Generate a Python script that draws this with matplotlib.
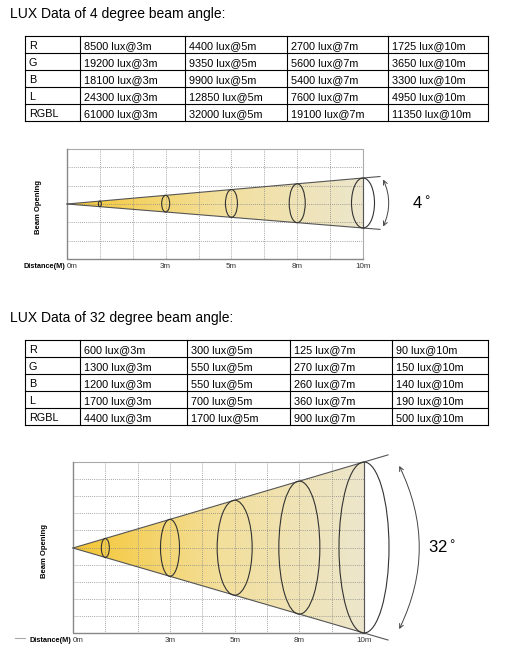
import numpy as np
import matplotlib
matplotlib.use("Agg")
import matplotlib.pyplot as plt
from matplotlib.patches import Polygon, Ellipse, FancyArrowPatch
from matplotlib.colors import LinearSegmentedColormap

plt.rcParams['font.family'] = ['Liberation Sans', 'DejaVu Sans']

# ---- data ----
row_labels = ["R", "G", "B", "L", "RGBL"]
lux_4deg = [
    ["8500 lux@3m", "4400 lux@5m", "2700 lux@7m", "1725 lux@10m"],
    ["19200 lux@3m", "9350 lux@5m", "5600 lux@7m", "3650 lux@10m"],
    ["18100 lux@3m", "9900 lux@5m", "5400 lux@7m", "3300 lux@10m"],
    ["24300 lux@3m", "12850 lux@5m", "7600 lux@7m", "4950 lux@10m"],
    ["61000 lux@3m", "32000 lux@5m", "19100 lux@7m", "11350 lux@10m"],
]
lux_32deg = [
    ["600 lux@3m", "300 lux@5m", "125 lux@7m", "90 lux@10m"],
    ["1300 lux@3m", "550 lux@5m", "270 lux@7m", "150 lux@10m"],
    ["1200 lux@3m", "550 lux@5m", "260 lux@7m", "140 lux@10m"],
    ["1700 lux@3m", "700 lux@5m", "360 lux@7m", "190 lux@10m"],
    ["4400 lux@3m", "1700 lux@5m", "900 lux@7m", "500 lux@10m"],
]
dist_labels = ["0m", "3m", "5m", "8m", "10m"]
ring_cols = [1, 3, 5, 7, 9]          # grid column of each ring

fig = plt.figure(figsize=(5.09, 6.51), dpi=100)
ax = fig.add_axes([0, 0, 1, 1])
ax.set_xlim(0, 509)
ax.set_ylim(651, 0)
ax.axis('off')

cmap = LinearSegmentedColormap.from_list("beam", ["#f5c632", "#f3df9a", "#ece6cc"])


def draw_table(y0, cols, rows):
    rh = 17
    for i, lab in enumerate(row_labels):
        y = y0 + i * rh
        cells = [lab] + rows[i]
        for j, txt in enumerate(cells):
            ax.text(cols[j] + 4, y + rh / 2 + 0.5, txt, fontsize=7.8, va='center_baseline', ha='left')
    for i in range(len(row_labels) + 1):
        ax.plot([cols[0], cols[-1]], [y0 + i * rh] * 2, color='black', lw=0.8)
    for c in cols:
        ax.plot([c, c], [y0, y0 + rh * len(row_labels)], color='black', lw=0.8)


def draw_beam(x0, x1, y0, y1, nrow, apex_y, top10, bot10, widths, deg, ext, arc_x):
    ncol = 9
    xs = np.linspace(x0, x1, ncol + 1)
    ys = np.linspace(y0, y1, nrow + 1)
    for x in xs[1:-1]:
        ax.plot([x, x], [y0, y1], color='#888888', lw=0.6, ls=(0, (1, 1.5)))
    for y in ys[1:-1]:
        ax.plot([x0, x1], [y, y], color='#888888', lw=0.6, ls=(0, (1, 1.5)))
    ax.plot([x0, x1, x1], [y0, y0, y1], color='#aaaaaa', lw=0.8)
    ax.plot([x0, x0, x1], [y0, y1, y1], color='#888888', lw=1.0)

    # cone fill with gradient
    poly = Polygon([[x0, apex_y], [x1, top10], [x1, bot10]], closed=True,
                   facecolor='none', edgecolor='none')
    ax.add_patch(poly)
    grad = np.linspace(0, 1, 256).reshape(1, -1)
    im = ax.imshow(grad, cmap=cmap, extent=[x0, x1, bot10, top10], aspect='auto', zorder=1)
    im.set_clip_path(poly)
    ax.set_xlim(0, 509)
    ax.set_ylim(651, 0)

    # cone edges extended
    for yend in (top10, bot10):
        slope = (yend - apex_y) / (x1 - x0)
        ax.plot([x0, x1 + ext], [apex_y, yend + slope * ext], color='#555555', lw=0.8, zorder=3)
    ax.plot([x1, x1], [top10, bot10], color='#555555', lw=0.8, zorder=3)

    # rings
    for c, w in zip(ring_cols, widths):
        xc = xs[c]
        f = (xc - x0) / (x1 - x0)
        h = (bot10 - top10) * f
        yc = apex_y + ((top10 + bot10) / 2 - apex_y) * f
        ax.add_patch(Ellipse((xc, yc), w, h, fill=False, ec='#333333', lw=0.8, zorder=4))

    # angle arrow
    h10 = bot10 - top10
    ax.add_patch(FancyArrowPatch((arc_x, top10 - 2 + h10 * 0.02), (arc_x, bot10 + 2 - h10 * 0.02),
                                 connectionstyle="arc3,rad=-0.25", arrowstyle='<->,head_length=3,head_width=1.5',
                                 color='#444444', lw=0.7, zorder=4))
    ax.text(arc_x + 30, (top10 + bot10) / 2, deg, fontsize=12, va='center', ha='left')

    # labels
    ax.text(x0 - 28, (y0 + y1) / 2 + 3, "Beam Opening", rotation=90, fontsize=5.5,
            fontweight='bold', va='center', ha='center')
    ax.text(x0 - 2, y1 + 7, "Distance(M)", fontsize=5.3, fontweight='bold', va='center', ha='right')
    for c, lab in zip([0] + ring_cols[1:], dist_labels):
        ax.text(xs[c] + (5 if c == 0 else 0), y1 + 7.5, lab, fontsize=5.8, va='center', ha='center',
                color='#333333')


ax.text(10, 14, "LUX Data of 4 degree beam angle:", fontsize=10, va='center', ha='left')
draw_table(36, [25, 80, 185, 287, 388, 488], lux_4deg)
draw_beam(67, 363, 149, 259, 6, 204, 178, 228, [3, 8, 12, 16, 23], "4$^\\circ$", 17, 382)

ax.text(10, 318, "LUX Data of 32 degree beam angle:", fontsize=10, va='center', ha='left')
draw_table(340, [25, 80, 187, 290, 392, 488], lux_32deg)
ax.plot([15, 25], [638, 638], color='#aaaaaa', lw=0.8)
draw_beam(73, 364, 462, 633, 10, 548, 462, 633, [8, 19, 35, 41, 50], "32$^\\circ$", 24, 398)

fig.savefig("out.png", dpi=100)
